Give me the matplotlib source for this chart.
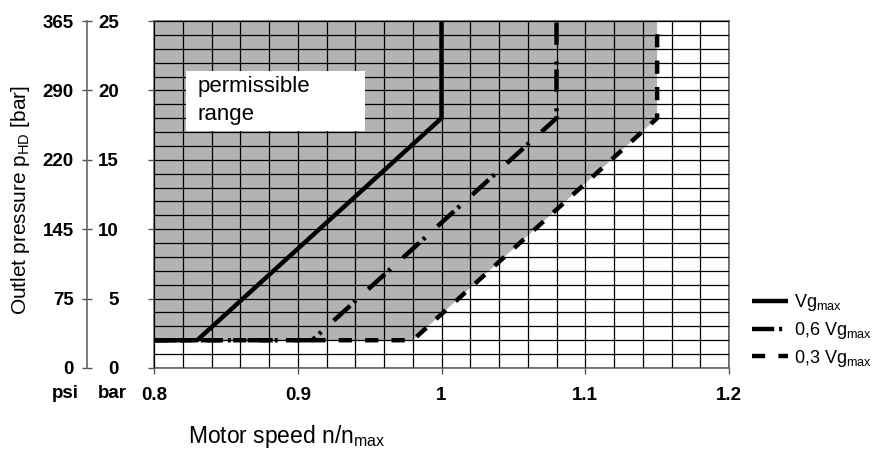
import matplotlib
matplotlib.use("Agg")
import matplotlib.pyplot as plt
from matplotlib.patches import Rectangle
from matplotlib.ticker import MultipleLocator

plt.rcParams["font.family"] = ["Liberation Sans", "DejaVu Sans"]
plt.rcParams["lines.scale_dashes"] = False

# boundary curves: motor speed n/nmax vs outlet pressure [bar]
speed_vgmax = [0.80, 0.83, 1.00, 1.00]
speed_vg06 = [0.80, 0.91, 1.08, 1.08]
speed_vg03 = [0.80, 0.98, 1.15, 1.15]
pressure = [2, 2, 18, 25]

x_ticks = [0.8, 0.9, 1.0, 1.1, 1.2]
x_labels = ["0.8", "0.9", "1", "1.1", "1.2"]
bar_ticks = [0, 5, 10, 15, 20, 25]
psi_labels = ["0", "75", "145", "220", "290", "365"]

W, H = 874, 449
fig = plt.figure(figsize=(W / 100, H / 100), dpi=100)
left, right, top, bottom = 154, 729, 21, 368
ax = fig.add_axes([left / W, 1 - bottom / H, (right - left) / W, (bottom - top) / H])

# permissible range (grey)
ax.fill(speed_vg03 + [speed_vg03[0]], pressure + [pressure[-1]],
        color="#b3b3b3", lw=0, zorder=1)

ax.set_xlim(0.8, 1.2)
ax.set_ylim(0, 25)
ax.xaxis.set_minor_locator(MultipleLocator(0.02))
ax.yaxis.set_minor_locator(MultipleLocator(1))
ax.grid(which="both", color="black", lw=0.9)
ax.set_axisbelow(False)
ax.tick_params(which="minor", length=0)
ax.set_xticks(x_ticks, x_labels)
ax.set_yticks(bar_ticks, [])
ax.tick_params(which="major", direction="out", length=4, width=1, color="#555555",
               labelsize=13.5, pad=10)
for lbl in ax.get_xticklabels():
    lbl.set_fontweight("bold")
for s in ax.spines.values():
    s.set_color("#666666")
    s.set_linewidth(1.2)

lw = 3.2
ax.plot(speed_vgmax, pressure, color="black", lw=lw, solid_capstyle="butt",
        label=r"Vg$_{\mathregular{max}}$", zorder=4)
ax.plot(speed_vg06, pressure, color="black", lw=lw,
        ls=(0, (16, 3.5, 2.2, 12)), dash_capstyle="butt",
        label=r"0,6 Vg$_{\mathregular{max}}$", zorder=4)
ax.plot(speed_vg03, pressure, color="black", lw=lw,
        ls=(0, (9.5, 9.5)), dash_capstyle="butt",
        label=r"0,3 Vg$_{\mathregular{max}}$", zorder=4)

# label box
ax.add_patch(Rectangle((0.0557, 0.683), 0.311, 0.173, transform=ax.transAxes,
                       facecolor="white", edgecolor="none", zorder=3))
ax.text(0.0765, 0.771, "permissible\nrange", transform=ax.transAxes,
        fontsize=16, va="center", ha="left", linespacing=1.4, zorder=5)

ax.legend(loc="upper left", bbox_to_anchor=(752 / W, 1 - 292 / H),
          bbox_transform=fig.transFigure, frameon=False, fontsize=13,
          handlelength=2.0, handletextpad=0.3, labelspacing=0.38,
          borderpad=0, borderaxespad=0)

# psi / bar scale on the left
ax2 = fig.add_axes([87 / W, 1 - bottom / H, 1e-5, (bottom - top) / H])
ax2.set_ylim(0, 25)
ax2.set_xticks([])
for k in ["top", "right", "bottom"]:
    ax2.spines[k].set_visible(False)
ax2.spines["left"].set_color("#666666")
ax2.spines["left"].set_linewidth(1.2)
ax2.set_yticks(bar_ticks, psi_labels)
ax2.tick_params(axis="y", direction="inout", length=7, width=1, color="#555555",
                labelsize=13.5, pad=6)
for lbl in ax2.get_yticklabels():
    lbl.set_fontweight("bold")
ax3 = ax2.twinx()
ax3.set_ylim(0, 25)
for k in ax3.spines:
    ax3.spines[k].set_visible(False)
ax3.set_yticks(bar_ticks, [str(v) for v in bar_ticks])
ax3.tick_params(axis="y", length=0, labelsize=13.5, pad=23)
for lbl in ax3.get_yticklabels():
    lbl.set_fontweight("bold")
    lbl.set_horizontalalignment("right")

fig.text(65 / W, 1 - 394 / H, "psi", fontsize=13.5, fontweight="bold",
         ha="center", va="center")
fig.text(112 / W, 1 - 394 / H, "bar", fontsize=13.5, fontweight="bold",
         ha="center", va="center")

fig.text(21 / W, 1 - 200 / H, r"Outlet pressure p$_{\mathregular{HD}}$ [bar]",
         rotation=90, fontsize=15, ha="center", va="center")
fig.text(188 / W, 1 - 437 / H, r"Motor speed n/n$_{\mathregular{max}}$",
         fontsize=16.5, ha="left", va="center")

fig.savefig("out.png", dpi=100)
